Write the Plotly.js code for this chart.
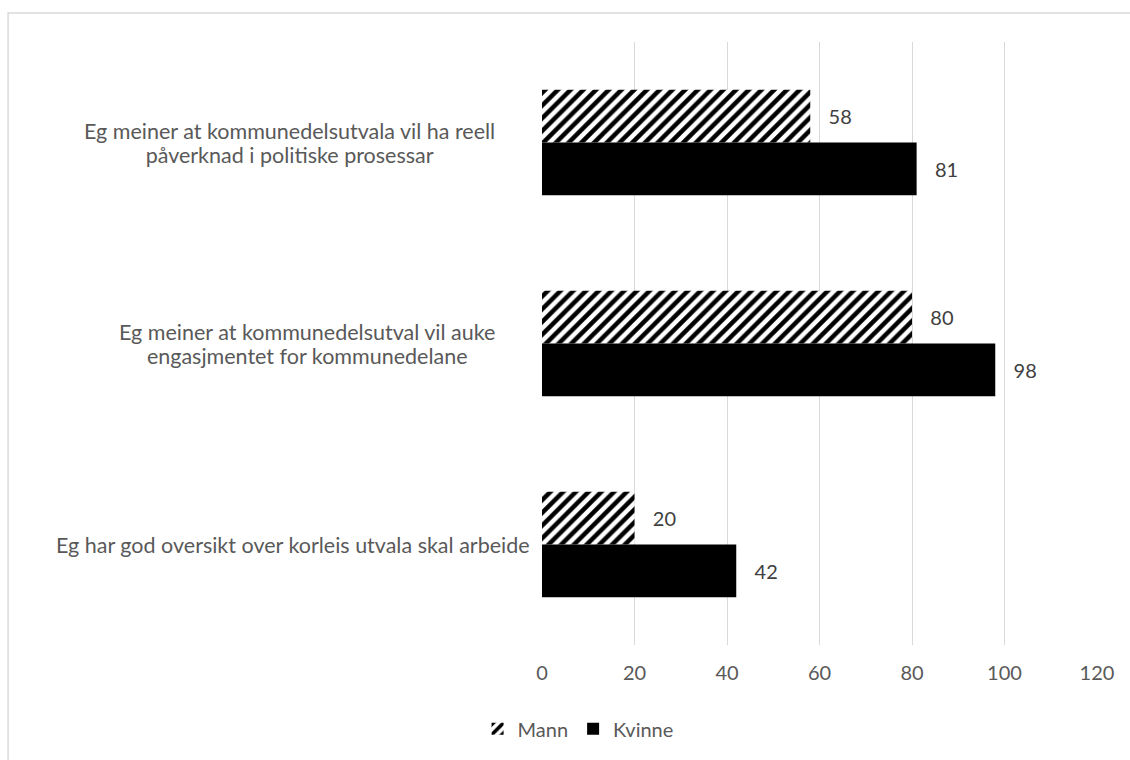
<!DOCTYPE html>
<html>
<head>
<meta charset="utf-8">
<script src="https://cdn.plot.ly/plotly-3.0.1.min.js"></script>
<style>
html,body{margin:0;padding:0;background:#fff;}
#chart{width:1130px;height:760px;}
</style>
</head>
<body>
<div id="chart"></div>
<script>
const categories = [
  "Eg meiner at kommunedelsutvala vil ha reell<br>påverknad i politiske prosessar",
  "Eg meiner at kommunedelsutval vil auke<br>engasjmentet for kommunedelane",
  "Eg har god oversikt over korleis utvala skal arbeide"
];
const mannValues = [58, 80, 20];
const kvinneValues = [81, 98, 42];
const xTicks = [0, 20, 40, 60, 80, 100, 120];

const FONT = "Lato, 'Open Sans', sans-serif";
const TXT = "#595959";
const W = 400;

const mann = {
  type: "bar", orientation: "h", name: "Mann",
  y: categories, x: mannValues,
  marker: {color: "white", line: {width: 0},
    pattern: {shape: "/", fgcolor: "black", bgcolor: "white", fgopacity: 1, size: 9, solidity: 0.5, fillmode: "overlay"}},
  texttemplate: "\u00a0\u00a0\u00a0%{x}", textposition: "outside",
  textfont: {family: FONT, size: 20, color: "#404040", weight: W},
  cliponaxis: false, hoverinfo: "x"
};
const kvinne = {
  type: "bar", orientation: "h", name: "Kvinne",
  y: categories, x: kvinneValues,
  marker: {color: "black", line: {width: 0}},
  texttemplate: "\u00a0\u00a0\u00a0%{x}", textposition: "outside",
  textfont: {family: FONT, size: 20, color: "#404040", weight: W},
  cliponaxis: false, hoverinfo: "x"
};

const annotations = categories.map(c => ({
  x: 0, y: c, xref: "x", yref: "y",
  text: c.split("<br>").map(l => '<span style="font-size:21.5px">' + l + '</span>').join("<br>"),
  showarrow: false, xanchor: "right", align: "center",
  xshift: c.indexOf("<br>") >= 0 ? -45 : -10,
  font: {family: FONT, size: 18.5, color: TXT, weight: W}
}));

const layout = {
  width: 1130, height: 760,
  margin: {l: 542, r: 33, t: 42, b: 113},
  paper_bgcolor: "white", plot_bgcolor: "white",
  barmode: "group", bargap: 0.474, bargroupgap: 0,
  font: {family: FONT, size: 20, color: TXT, weight: W},
  xaxis: {
    range: [0, 120], tickvals: xTicks, ticktext: xTicks.map(String),
    showgrid: true, gridcolor: "#d9d9d9", gridwidth: 1,
    zeroline: false, showline: false, ticks: "",
    tickfont: {family: FONT, size: 20, color: TXT, weight: W}, ticklabelstandoff: 14
  },
  yaxis: {
    autorange: "reversed", showticklabels: false, showgrid: false,
    zeroline: false, showline: false, ticks: ""
  },
  showlegend: true,
  legend: {
    orientation: "h", x: 0.065, xanchor: "center", y: -0.139, yanchor: "middle",
    font: {family: FONT, size: 20, color: TXT, weight: W}, itemwidth: 30, traceorder: "normal"
  },
  annotations: annotations,
  shapes: [{
    type: "rect", xref: "paper", yref: "paper",
    x0: -0.962, x1: 1.08, y0: -0.21, y1: 1.048,
    line: {color: "#d9d9d9", width: 1.5}, fillcolor: "rgba(0,0,0,0)", layer: "below"
  }]
};

Plotly.newPlot("chart", [mann, kvinne], layout, {displayModeBar: false, staticPlot: true});
</script>
</body>
</html>
